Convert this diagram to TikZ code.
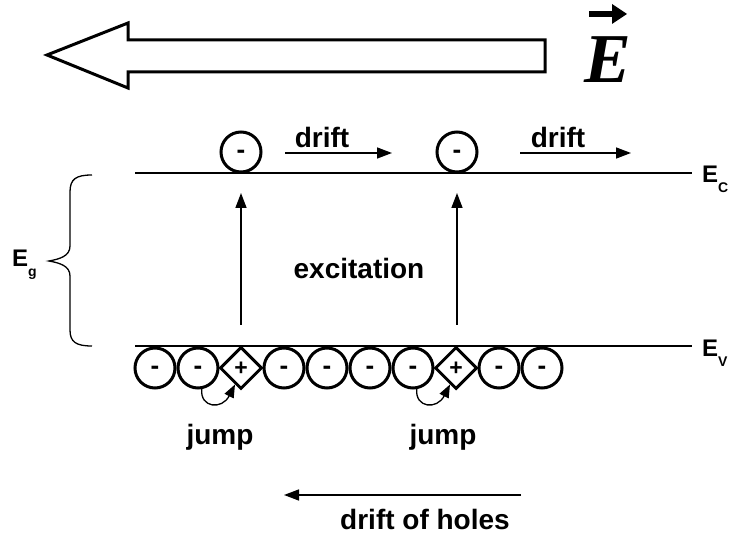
\documentclass[tikz,border=0pt]{standalone}
\usepackage{fontspec}
\setmainfont{Liberation Sans}
\newfontfamily\serifbi{Liberation Serif}
\usetikzlibrary{arrows.meta,shapes.geometric}
\begin{document}
\begin{tikzpicture}[x=1pt,y=-1pt,
  lbl/.style={font=\fontsize{28}{32}\selectfont\bfseries, inner sep=0pt},
  elec/.style={circle,draw,line width=3pt,minimum size=40pt,inner sep=0pt,text height=13.5pt,text depth=0pt,font=\fontsize{26}{26}\selectfont\bfseries},
  hole/.style={diamond,draw,line width=3pt,minimum width=42pt,minimum height=42pt,inner sep=0pt,text height=15pt,text depth=0pt,font=\fontsize{23}{23}\selectfont\bfseries},
  level/.style={line width=1.5pt},
  arr/.style={line width=1.5pt,-{Triangle[length=15pt,width=11pt]}},
  jumparr/.style={line width=1.3pt,-{Triangle[length=13pt,width=10pt]}},
  elab/.style={font=\fontsize{24}{26}\selectfont\bfseries, inner sep=0pt, anchor=base west}]
\useasboundingbox (0,0) rectangle (732,534);
% big field arrow
\draw[line width=3pt,line join=miter] (47,55) -- (128,23) -- (128,40) -- (545,40) -- (545,72) -- (128,72) -- (128,88) -- cycle;
% E vector
\node[font=\fontsize{70}{70}\selectfont\serifbi\bfseries\itshape,inner sep=0pt] (evec) at (608,60) {E};
\fill (589,11) rectangle (614,17.5);
\fill (612,4) -- (627,14) -- (612,24) -- cycle;
% levels
\coordinate (ecl) at (135,173); \coordinate (ecr) at (692,173);
\coordinate (evl) at (135,346); \coordinate (evr) at (692,346);
\draw[level] (ecl) -- (ecr);
\draw[level] (evl) -- (evr);
\node[elab] (ec) at (702,183) {E\raisebox{-10pt}{\fontsize{14}{14}\selectfont C}};
\node[elab] (ev) at (702,357) {E\raisebox{-10pt}{\fontsize{14}{14}\selectfont V}};
% brace
\draw[line width=1.3pt] (92,175) .. controls (76,175) and (70,179) .. (70,192) -- (70,246)
  .. controls (70,256) and (60,259) .. (49,261)
  .. controls (60,263) and (70,266) .. (70,276) -- (70,330)
  .. controls (70,342) and (76,346) .. (92,346);
\node[elab] (eg) at (12,267) {E\raisebox{-10pt}{\fontsize{14}{14}\selectfont g}};
% conduction electrons
\node[elec] (ce1) at (241,152) {-};
\node[elec] (ce2) at (457,152) {-};
\node[lbl] (dr1) at (322,137) {drift};
\node[lbl] (dr2) at (558,137) {drift};
\coordinate (d1s) at (285,153); \coordinate (d1e) at (392,153);
\coordinate (d2s) at (520,153); \coordinate (d2e) at (631,153);
\draw[arr] (d1s) -- (d1e);
\draw[arr] (d2s) -- (d2e);
% excitation
\coordinate (x1s) at (241,325); \coordinate (x1e) at (241,193);
\coordinate (x2s) at (457,325); \coordinate (x2e) at (457,193);
\draw[arr] (x1s) -- (x1e);
\draw[arr] (x2s) -- (x2e);
\node[lbl] (exc) at (359,268) {excitation};
% valence row
\node[elec] (v1) at (155,368) {-};
\node[elec] (v2) at (198,368) {-};
\node[hole] (h1) at (241,368) {+};
\node[elec] (v4) at (284,368) {-};
\node[elec] (v5) at (327,368) {-};
\node[elec] (v6) at (370,368) {-};
\node[elec] (v7) at (413,368) {-};
\node[hole] (h2) at (456,368) {+};
\node[elec] (v9) at (499,368) {-};
\node[elec] (v10) at (542,368) {-};
% jumps
\draw[jumparr] (v2.-80) .. controls (200,408) and (222,410) .. (h1.-110);
\draw[jumparr] (v7.-80) .. controls (415,408) and (437,410) .. (h2.-110);
\node[lbl] (j1) at (220,437) {jump};
\node[lbl] (j2) at (443,437) {jump};
% drift of holes
\coordinate (hs) at (521,495); \coordinate (he) at (284,495);
\draw[arr] (hs) -- (he);
\node[lbl] (doh) at (425,519) {drift of holes};
\end{tikzpicture}
\end{document}
